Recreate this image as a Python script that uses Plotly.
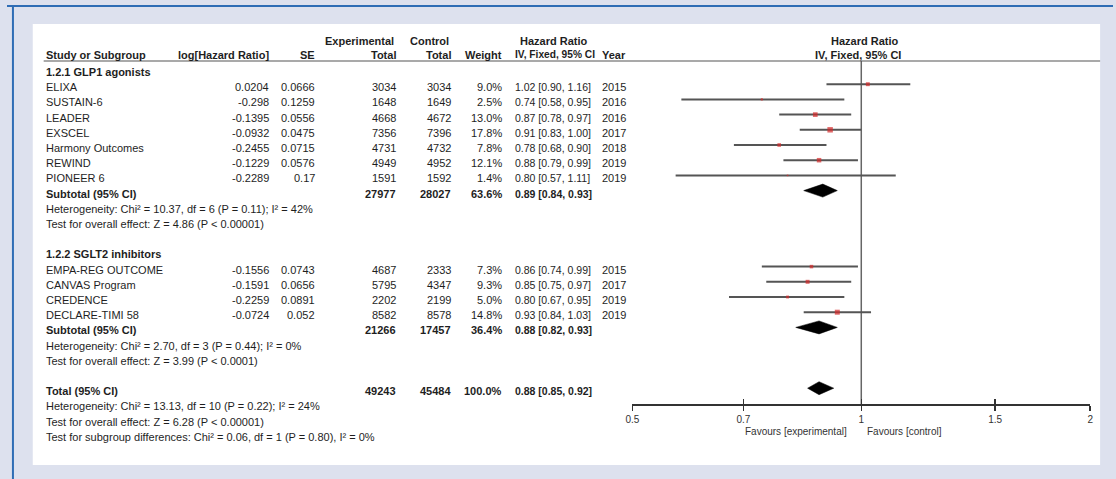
import math
import plotly.graph_objects as go

W, H = 1116, 479

# ---------------- data ----------------
glp_studies = ["ELIXA", "SUSTAIN-6", "LEADER", "EXSCEL", "Harmony Outcomes", "REWIND", "PIONEER 6"]
glp_loghr = ["0.0204", "-0.298", "-0.1395", "-0.0932", "-0.2455", "-0.1229", "-0.2289"]
glp_se = ["0.0666", "0.1259", "0.0556", "0.0475", "0.0715", "0.0576", "0.17"]
glp_exp = [3034, 1648, 4668, 7356, 4731, 4949, 1591]
glp_ctl = [3034, 1649, 4672, 7396, 4732, 4952, 1592]
glp_weight = [9.0, 2.5, 13.0, 17.8, 7.8, 12.1, 1.4]
glp_hr = [1.02, 0.74, 0.87, 0.91, 0.78, 0.88, 0.80]
glp_lo = [0.90, 0.58, 0.78, 0.83, 0.68, 0.79, 0.57]
glp_hi = [1.16, 0.95, 0.97, 1.00, 0.90, 0.99, 1.11]
glp_year = [2015, 2016, 2016, 2017, 2018, 2019, 2019]

sglt_studies = ["EMPA-REG OUTCOME", "CANVAS Program", "CREDENCE", "DECLARE-TIMI 58"]
sglt_loghr = ["-0.1556", "-0.1591", "-0.2259", "-0.0724"]
sglt_se = ["0.0743", "0.0656", "0.0891", "0.052"]
sglt_exp = [4687, 5795, 2202, 8582]
sglt_ctl = [2333, 4347, 2199, 8578]
sglt_weight = [7.3, 9.3, 5.0, 14.8]
sglt_hr = [0.86, 0.85, 0.80, 0.93]
sglt_lo = [0.74, 0.75, 0.67, 0.84]
sglt_hi = [0.99, 0.97, 0.95, 1.03]
sglt_year = [2015, 2017, 2019, 2019]

# subtotal / total: exp, ctl, weight, hr, lo, hi
glp_sub = [27977, 28027, 63.6, 0.89, 0.84, 0.93]
sglt_sub = [21266, 17457, 36.4, 0.88, 0.82, 0.93]
total = [49243, 45484, 100.0, 0.88, 0.85, 0.92]

glp_notes = ["Heterogeneity: Chi² = 10.37, df = 6 (P = 0.11); I² = 42%",
             "Test for overall effect: Z = 4.86 (P &lt; 0.00001)"]
sglt_notes = ["Heterogeneity: Chi² = 2.70, df = 3 (P = 0.44); I² = 0%",
              "Test for overall effect: Z = 3.99 (P &lt; 0.0001)"]
total_notes = ["Heterogeneity: Chi² = 13.13, df = 10 (P = 0.22); I² = 24%",
               "Test for overall effect: Z = 6.28 (P &lt; 0.00001)",
               "Test for subgroup differences: Chi² = 0.06, df = 1 (P = 0.80), I² = 0%"]

tick_vals = [0.5, 0.7, 1, 1.5, 2]
tick_text = ["0.5", "0.7", "1", "1.5", "2"]

# ---------------- layout geometry (pixels) ----------------
FONT = "Liberation Sans, Arial, sans-serif"
FS = 11      # general text
FS_CI = 10.5  # hazard-ratio CI column
TXT = "#1e1e1e"
X_STUDY, X_LOGHR, X_SE, X_EXP, X_CTL, X_W, X_CI, X_YEAR = 37, 266, 313, 395, 450, 501, 511, 598
PLOT_L, PLOT_R, AXIS_Y = 631, 1093, 404
ROW0, STEP = 72, 15.2
MARK_DY = -3


def row_y(i):
    return ROW0 + i * STEP


def px(x):
    return x / W


def py(y):
    return 1 - y / H


ann = []


def txt(x, y, s, anchor="left", bold=False, size=FS, color=TXT):
    ann.append(dict(x=px(x), y=py(y), xref="paper", yref="paper", text=f"<b>{s}</b>" if bold else s,
                    showarrow=False, xanchor=anchor, yanchor="middle",
                    font=dict(family=FONT, size=size, color=color)))


# headers
txt(X_EXP - 2, 41, "Experimental", "right", True)
txt(X_CTL - 2, 41, "Control", "right", True)
txt(552, 41, "Hazard Ratio", "center", True)
txt(866, 41, "Hazard Ratio", "center", True)
txt(X_STUDY, 55, "Study or Subgroup", "left", True)
txt(X_LOGHR, 55, "log[Hazard Ratio]", "right", True)
txt(X_SE, 55, "SE", "right", True)
txt(X_EXP, 55, "Total", "right", True)
txt(X_CTL, 55, "Total", "right", True)
txt(X_W, 55, "Weight", "right", True)
txt(X_CI, 55, "IV, Fixed, 95% CI", "left", True, size=10.2)
txt(X_YEAR, 55, "Year", "left", True)
txt(859, 55, "IV, Fixed, 95% CI", "center", True)

ci_x, ci_y, pt_x, pt_y, pt_s = [], [], [], [], []
diamonds = []


def study_rows(start, names, lhr, se, ex, ct, w, hr, lo, hi, yr):
    for k in range(len(names)):
        y = row_y(start + k)
        txt(X_STUDY, y, names[k])
        txt(X_LOGHR, y, lhr[k], "right")
        txt(X_SE, y, se[k], "right")
        txt(X_EXP, y, str(ex[k]), "right")
        txt(X_CTL, y, str(ct[k]), "right")
        txt(X_W, y, f"{w[k]:.1f}%", "right")
        txt(X_CI, y, f"{hr[k]:.2f} [{lo[k]:.2f}, {hi[k]:.2f}]", size=FS_CI)
        txt(X_YEAR, y, str(yr[k]))
        ym = y + MARK_DY
        ci_x.extend([lo[k], hi[k], None])
        ci_y.extend([ym, ym, None])
        pt_x.append(hr[k])
        pt_y.append(ym)
        pt_s.append(1.3 * math.sqrt(w[k]))


def summary_row(i, label, vals):
    y = row_y(i)
    ex, ct, w, hr, lo, hi = vals
    txt(X_STUDY, y, label, bold=True)
    txt(X_EXP, y, str(ex), "right", True)
    txt(X_CTL, y, str(ct), "right", True)
    txt(X_W, y, f"{w:.1f}%", "right", True)
    txt(X_CI, y, f"{hr:.2f} [{lo:.2f}, {hi:.2f}]", bold=True, size=FS_CI)
    diamonds.append((y + MARK_DY, hr, lo, hi))


txt(X_STUDY, row_y(0), "1.2.1 GLP1 agonists", bold=True)
study_rows(1, glp_studies, glp_loghr, glp_se, glp_exp, glp_ctl, glp_weight, glp_hr, glp_lo, glp_hi, glp_year)
summary_row(8, "Subtotal (95% CI)", glp_sub)
for j, s in enumerate(glp_notes):
    txt(X_STUDY, row_y(9 + j), s)

txt(X_STUDY, row_y(12), "1.2.2 SGLT2 inhibitors", bold=True)
study_rows(13, sglt_studies, sglt_loghr, sglt_se, sglt_exp, sglt_ctl, sglt_weight, sglt_hr, sglt_lo, sglt_hi, sglt_year)
summary_row(17, "Subtotal (95% CI)", sglt_sub)
for j, s in enumerate(sglt_notes):
    txt(X_STUDY, row_y(18 + j), s)

summary_row(21, "Total (95% CI)", total)
for j, s in enumerate(total_notes):
    txt(X_STUDY, row_y(22 + j), s)

txt(850, 431, "Favours [experimental]", "right", size=10, color="#333333")
txt(866, 431, "Favours [control]", "left", size=10, color="#333333")

# ---------------- traces ----------------
traces = []
traces.append(go.Scatter(x=[1, 1], y=[61, AXIS_Y], mode="lines",
                         line=dict(color="#666666", width=1.5), hoverinfo="skip", showlegend=False))
traces.append(go.Scatter(x=ci_x, y=ci_y, mode="lines",
                         line=dict(color="#555555", width=2), hoverinfo="skip", showlegend=False))
traces.append(go.Scatter(x=pt_x, y=pt_y, mode="markers",
                         marker=dict(symbol="square", size=pt_s, color="#d42a2a", line=dict(width=0)),
                         hoverinfo="skip", showlegend=False))
for (y, hr, lo, hi) in diamonds:
    traces.append(go.Scatter(x=[lo, hr, hi, hr, lo], y=[y, y - 6.5, y, y + 6.5, y],
                             mode="lines", fill="toself", fillcolor="#000000", line=dict(width=0.5, color="#000"),
                             hoverinfo="skip", showlegend=False))
traces.append(go.Scatter(x=[1], y=[-50], xaxis="x3", mode="markers", marker=dict(opacity=0),
                         hoverinfo="skip", showlegend=False))

fig = go.Figure(traces)

shapes = [
    dict(type="rect", xref="paper", yref="paper", x0=px(26), x1=px(1103), y0=py(24), y1=py(465),
         fillcolor="#ffffff", line=dict(width=0), layer="below"),
    dict(type="line", xref="paper", yref="paper", x0=0, x1=1, y0=py(6), y1=py(6),
         line=dict(color="#2f6db5", width=2)),
    dict(type="line", xref="paper", yref="paper", x0=px(6), x1=px(6), y0=py(6), y1=0,
         line=dict(color="#2f6db5", width=2)),
    dict(type="line", xref="paper", yref="paper", x0=px(X_STUDY), x1=px(1103), y0=py(61), y1=py(61),
         line=dict(color="#555555", width=1.2)),
]

pos = 1 - AXIS_Y / H
axis_common = dict(type="log", range=[math.log10(0.5), math.log10(2)],
                   tickvals=tick_vals, ticktext=tick_text,
                   showgrid=False, zeroline=False, tickwidth=1.5, tickcolor="#333333")

fig.update_layout(
    width=W, height=H, autosize=False,
    margin=dict(l=0, r=0, t=0, b=0, pad=0),
    paper_bgcolor="#dde1ee", plot_bgcolor="rgba(0,0,0,0)",
    showlegend=False,
    xaxis=dict(**axis_common, domain=[PLOT_L / W, PLOT_R / W], anchor="free", position=pos,
               showline=True, linecolor="#333333", linewidth=1.5, ticks="outside", ticklen=5,
               tickfont=dict(family=FONT, size=10, color="#333333")),
    xaxis3=dict(**axis_common, overlaying="x", anchor="free", position=pos, showline=False,
                ticks="inside", ticklen=5, showticklabels=False),
    yaxis=dict(domain=[0, 1], range=[H, 0], visible=False, anchor="x"),
    shapes=shapes,
    annotations=ann,
)

fig.write_html("out.html", config={"displayModeBar": False, "staticPlot": True},
               post_script="document.body.style.margin='0';document.body.style.overflow='hidden';")
